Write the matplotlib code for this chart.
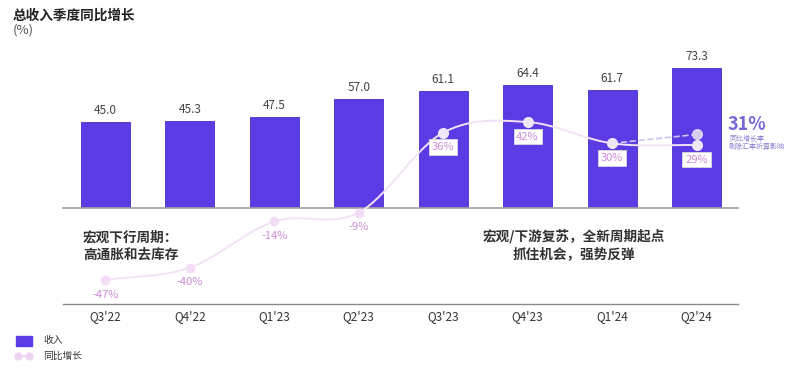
import numpy as np
import matplotlib
matplotlib.use('Agg')
import matplotlib.pyplot as plt

plt.rcParams['font.family'] = ['Noto Sans CJK SC', 'DejaVu Sans']

quarters = ["Q3'22", "Q4'22", "Q1'23", "Q2'23", "Q3'23", "Q4'23", "Q1'24", "Q2'24"]
revenue = [45.0, 45.3, 47.5, 57.0, 61.1, 64.4, 61.7, 73.3]
yoy = [-47, -40, -14, -9, 36, 42, 30, 29]
yoy_fx_point = 35      # dashed end point, as drawn
yoy_fx_label = "31%"

BAR = '#5b3be4'
LINE = '#f2e2f5'
LABEL = '#cc8ad8'
W, H = 800, 370


def catmull(xs, ys, n=30):
    # smooth curve through the points for drawing only
    xs = np.asarray(xs, float)
    ys = np.asarray(ys, float)
    px = np.concatenate([[2 * xs[0] - xs[1]], xs, [2 * xs[-1] - xs[-2]]])
    py = np.concatenate([[2 * ys[0] - ys[1]], ys, [2 * ys[-1] - ys[-2]]])
    outx, outy = [], []
    for i in range(1, len(px) - 2):
        t = np.linspace(0, 1, n)
        for arr, out in ((px, outx), (py, outy)):
            p0, p1, p2, p3 = arr[i - 1], arr[i], arr[i + 1], arr[i + 2]
            out.extend(0.5 * (2 * p1 + (-p0 + p2) * t + (2 * p0 - 5 * p1 + 4 * p2 - p3) * t ** 2
                              + (-p0 + 3 * p1 - 3 * p2 + p3) * t ** 3))
    return np.array(outx), np.array(outy)


fig = plt.figure(figsize=(W / 100, H / 100), dpi=100)
x = np.arange(len(quarters))
xlim = (-0.501, 7.491)

# bars
ax_bar = fig.add_axes([63 / W, 1 - 207.5 / H, 675 / W, 167.5 / H])
ax_bar.bar(x, revenue, width=0.58, color=BAR, edgecolor='#4a2fc8', linewidth=0.6, zorder=2)
for xi, v in zip(x, revenue):
    ax_bar.annotate(f"{v:.1f}", (xi, v), xytext=(0, 8.5), textcoords='offset points',
                    ha='center', va='center', fontsize=8.5, color='#444444')
ax_bar.set_xlim(*xlim)
ax_bar.set_ylim(0, 88.2)
ax_bar.set_xticks([])
ax_bar.set_yticks([])
for s in ['top', 'left', 'right']:
    ax_bar.spines[s].set_visible(False)
ax_bar.spines['bottom'].set_color('#a0a0a0')
ax_bar.spines['bottom'].set_linewidth(1.2)

# yoy line
ax = fig.add_axes([63 / W, 1 - 304 / H, 675 / W, 264 / H])
ax.patch.set_alpha(0)
cx, cy = catmull(x, yoy)
ax.plot(cx, cy, color=LINE, lw=1.4, zorder=3)
ax.plot(x[:4], yoy[:4], 'o', ms=6, color='#f3dcf5', zorder=4)
ax.plot(x[4:], yoy[4:], 'o', ms=7, color='#ede7f9', zorder=4)
ax.plot([x[6], x[7]], [yoy[6], yoy_fx_point], ls='--', lw=1.2, color='#cfc6ef', zorder=3)
ax.plot([x[7]], [yoy_fx_point], 'o', ms=7, color='#d6cff2', zorder=4)
for xi, v in zip(x, yoy):
    box = None
    if xi >= 4:
        box = dict(boxstyle='square,pad=0.25', fc='white', ec='#d8d8e0', lw=0.6)
    ax.annotate(f"{v}%", (xi, v), xytext=(0, -10.5), textcoords='offset points',
                ha='center', va='center', fontsize=8, color=LABEL, bbox=box, zorder=5)
ax.set_xlim(*xlim)
ax.set_ylim(-60.5, 88.2)
ax.set_xticks(x)
ax.set_xticklabels(quarters, fontsize=8.5, color='#333333')
ax.tick_params(axis='x', length=0, pad=4)
ax.set_yticks([])
for s in ['top', 'left', 'right']:
    ax.spines[s].set_visible(False)
ax.spines['bottom'].set_color('#8a8a8a')
ax.spines['bottom'].set_linewidth(1.0)

# fx-adjusted note
fig.text(728 / W, 1 - 125 / H, yoy_fx_label, fontsize=13, fontweight='bold', color='#7a66d6',
         va='center', ha='left')
fig.text(729 / W, 1 - 139 / H, "同比增长率", fontsize=5, color='#8a80d0', style='italic',
         va='center', ha='left')
fig.text(729 / W, 1 - 147 / H, "剔除汇率折算影响", fontsize=5, color='#8a80d0', style='italic',
         va='center', ha='left')

# titles
fig.text(13 / W, 1 - 16 / H, "总收入季度同比增长", fontsize=9.8, fontweight='bold', color='#222222',
         va='center', ha='left')
fig.text(13 / W, 1 - 30 / H, "(%)", fontsize=9.5, color='#555555', va='center', ha='left')

# phase comments
fig.text(83 / W, 1 - 246 / H, "宏观下行周期：\n高通胀和去库存", fontsize=9.8, fontweight='bold',
         color='#333333', va='center', ha='left', linespacing=1.25)
fig.text(574 / W, 1 - 245 / H, "宏观/下游复苏，全新周期起点\n抓住机会，强势反弹", fontsize=9.8,
         fontweight='bold', color='#333333', va='center', ha='center', linespacing=1.25)

# legend
lg = fig.add_axes([0, 0, 1, 1], zorder=-1)
lg.set_xlim(0, W)
lg.set_ylim(H, 0)
lg.axis('off')
lg.add_patch(plt.Rectangle((15.5, 336), 16, 9.5, color=BAR))
lg.plot([18, 29], [356, 356], color='#efd4f2', lw=1.5)
lg.plot([18, 29], [356, 356], 'o', ms=5, color='#efd4f2')
fig.text(43 / W, 1 - 340.5 / H, "收入", fontsize=7, color='#333333', va='center', ha='left')
fig.text(43 / W, 1 - 356 / H, "同比增长", fontsize=7, color='#333333', va='center', ha='left')

fig.savefig('out.png', dpi=100, facecolor='white')
